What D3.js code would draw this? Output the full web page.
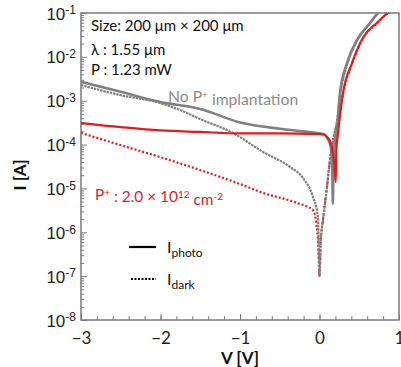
<!DOCTYPE html>
<html><head><meta charset="utf-8">
<script src="https://cdn.jsdelivr.net/npm/d3@7"></script>
<style>
body{margin:0;background:#fff;}
svg{display:block;font-family:Lato,"Open Sans",sans-serif;}
</style></head><body>
<svg id="c" width="401" height="367"></svg>
<script>
// ---- data ----
const xTicks = [-3, -2, -1, 0, 1];
const yExps = [-8, -7, -6, -5, -4, -3, -2, -1];

const vGrayPhoto = [-3, -2.5, -2, -1.5, -1, -0.5, -0.2, 0, 0.05, 0.1, 0.14, 0.16, 0.168, 0.176, 0.19, 0.22, 0.258, 0.346, 0.47, 0.635, 0.736, 0.8];
const iGrayPhoto = [2.7e-3, 1.6e-3, 9.3e-4, 6.5e-4, 3.2e-4, 2.3e-4, 2.0e-4, 1.8e-4, 1.75e-4, 1.4e-4, 9e-5, 3e-5, 4.5e-6, 4e-5, 1e-4, 2.2e-4, 1.5e-3, 7.2e-3, 2.4e-2, 5.9e-2, 1e-1, 1.2e-1];

const vGrayDark = [-3, -2.509, -2.006, -1.755, -1.503, -1.088, -0.711, -0.371, -0.208, -0.082, -0.019, 0, 0.015, 0.044, 0.094, 0.132, 0.17, 0.22, 0.258, 0.346, 0.47, 0.635, 0.736, 0.8];
const iGrayDark = [2.28e-3, 1.35e-3, 8.87e-4, 6.14e-4, 3.83e-4, 1.84e-4, 6.78e-5, 3.08e-5, 1.73e-5, 6.38e-6, 2.23e-6, 1e-7, 6e-7, 1.9e-6, 1.07e-5, 4.5e-5, 1.25e-4, 3.5e-4, 1.3e-3, 6.5e-3, 2.3e-2, 5.8e-2, 1e-1, 1.2e-1];

const vRedPhoto = [-3, -2.5, -2, -1.5, -1, -0.5, 0, 0.05, 0.1, 0.14, 0.17, 0.19, 0.204, 0.212, 0.23, 0.26, 0.296, 0.409, 0.55, 0.72, 0.86, 0.9];
const iRedPhoto = [3.1e-4, 2.5e-4, 2.1e-4, 1.94e-4, 1.8e-4, 1.8e-4, 1.73e-4, 1.7e-4, 1.45e-4, 1.1e-4, 6e-5, 3e-5, 1.4e-5, 8e-5, 1.6e-4, 5e-4, 1.5e-3, 7.2e-3, 2.8e-2, 5.9e-2, 1e-1, 1.1e-1];

const vRedDark = [-3, -2.509, -2.006, -1.503, -1.0, -0.711, -0.283, -0.082, -0.04, -0.015, 0, 0.015, 0.044, 0.094, 0.132, 0.17, 0.22, 0.26, 0.296, 0.409, 0.55, 0.72, 0.86, 0.9];
const iRedDark = [1.84e-4, 9.8e-5, 5.2e-5, 2.63e-5, 1.26e-5, 7.9e-6, 4.66e-6, 3.2e-6, 1.6e-6, 5e-7, 1e-7, 6e-7, 1.9e-6, 1.07e-5, 4.5e-5, 1.25e-4, 3e-4, 7e-4, 1.5e-3, 7e-3, 2.7e-2, 5.8e-2, 1e-1, 1.1e-1];

// ---- chart ----
const svg = d3.select("#c");
const L = 81, R = 399, T = 13, B = 320;
const x = d3.scaleLinear().domain([-3, 1]).range([L, R]);
const y = d3.scaleLog().domain([1e-8, 1e-1]).range([B, T]);

const RED = "#e41a1c", GRAY = "#808080", AX = "#7a7a7a";

svg.append("defs").append("clipPath").attr("id", "clip")
  .append("rect").attr("x", L).attr("y", T).attr("width", R - L).attr("height", B - T);

// minor ticks x
const xMinor = d3.range(-3, 1.001, 0.2).map(v => Math.round(v * 10) / 10);
svg.append("g").attr("transform", `translate(0,${B})`)
  .call(d3.axisBottom(x).tickValues(xMinor).tickSize(-4).tickFormat(""))
  .call(g => { g.select(".domain").remove(); g.selectAll("line").attr("stroke", AX); });
// major x
svg.append("g").attr("transform", `translate(0,${B})`)
  .call(d3.axisBottom(x).tickValues(xTicks).tickSize(-6).tickPadding(12).tickFormat(d3.format("d")))
  .call(g => {
    g.select(".domain").remove();
    g.selectAll("line").attr("stroke", AX);
    g.selectAll("text").attr("font-size", 17).attr("fill", "#222").attr("font-family", "Lato,sans-serif");
  });

// minor ticks y
const yMinor = [];
for (let e = -8; e < -1; e++) for (let k = 2; k <= 9; k++) yMinor.push(k * Math.pow(10, e));
svg.append("g").attr("transform", `translate(${L},0)`)
  .call(d3.axisLeft(y).tickValues(yMinor).tickSize(-3).tickFormat(""))
  .call(g => { g.select(".domain").remove(); g.selectAll("line").attr("stroke", AX); });
// major y
svg.append("g").attr("transform", `translate(${L},0)`)
  .call(d3.axisLeft(y).tickValues(yExps.map(e => Math.pow(10, e))).tickSize(-6).tickPadding(6).tickFormat(""))
  .call(g => {
    g.select(".domain").remove();
    g.selectAll("line").attr("stroke", AX);
    g.selectAll(".tick").each(function (d) {
      const t = d3.select(this).append("text").attr("fill", "#222").attr("x", -5).attr("dy", "0.36em")
        .attr("text-anchor", "end").attr("font-size", 17);
      t.append("tspan").text("10");
      t.append("tspan").attr("dy", "-0.45em").attr("font-size", 12).text(String(Math.round(Math.log10(d))));
    });
  });

// frame
svg.append("rect").attr("x", L).attr("y", T).attr("width", R - L).attr("height", B - T)
  .attr("fill", "none").attr("stroke", AX).attr("stroke-width", 1.5);

// lines
const line = d3.line().x(d => x(d[0])).y(d => y(d[1])).curve(d3.curveMonotoneX);
const plot = svg.append("g").attr("clip-path", "url(#clip)");
function draw(vs, is, color, w, dash) {
  plot.append("path").datum(vs.map((v, i) => [v, is[i]]))
    .attr("d", line).attr("fill", "none").attr("stroke", color).attr("stroke-width", w)
    .attr("stroke-dasharray", dash || null).attr("stroke-linejoin", "round");
}
draw(vRedDark, iRedDark, RED, 2.2, "2,2");
draw(vGrayDark, iGrayDark, GRAY, 2.2, "2.5,0.8");
draw(vGrayPhoto, iGrayPhoto, GRAY, 2.6);
draw(vRedPhoto, iRedPhoto, RED, 2.2);

// annotations
const ann = svg.append("g").attr("font-size", 15).attr("fill", "#111");
ann.append("text").attr("x", 91).attr("y", 31).text("Size: 200 μm × 200 μm");
ann.append("text").attr("x", 91).attr("y", 55).text("λ : 1.55 μm");
ann.append("text").attr("x", 91).attr("y", 75).text("P : 1.23 mW");

const np = svg.append("text").attr("x", 168).attr("y", 102).attr("font-size", 15.7).attr("fill", "#8c8c8c");
np.append("tspan").text("No P");
np.append("tspan").attr("dy", "-0.45em").attr("font-size", 10).text("+");
np.append("tspan").attr("dy", "0.45em").text(" implantation");

const pp = svg.append("text").attr("x", 95).attr("y", 200).attr("font-size", 15.4).attr("fill", "#d9232a");
pp.append("tspan").text("P");
pp.append("tspan").attr("dy", "-0.45em").attr("font-size", 10).text("+");
pp.append("tspan").attr("dy", "0.45em").text(" : 2.0 × 10");
pp.append("tspan").attr("dy", "-0.45em").attr("font-size", 10).text("12");
pp.append("tspan").attr("dy", "0.45em").text(" cm");
pp.append("tspan").attr("dy", "-0.45em").attr("font-size", 10).text("-2");

// legend
const lg = svg.append("g");
lg.append("line").attr("x1", 129).attr("x2", 156).attr("y1", 247).attr("y2", 247).attr("stroke", "#000").attr("stroke-width", 2.2);
lg.append("line").attr("x1", 131).attr("x2", 156).attr("y1", 279).attr("y2", 279).attr("stroke", "#000").attr("stroke-width", 2).attr("stroke-dasharray", "2,1.5");
const t1 = lg.append("text").attr("x", 167).attr("y", 253).attr("font-size", 16).attr("fill", "#111");
t1.append("tspan").text("I");
t1.append("tspan").attr("dy", "0.35em").attr("font-size", 12).text("photo");
const t2 = lg.append("text").attr("x", 167).attr("y", 285).attr("font-size", 16).attr("fill", "#111");
t2.append("tspan").text("I");
t2.append("tspan").attr("dy", "0.35em").attr("font-size", 12).text("dark");

// axis titles
svg.append("text").attr("x", 240).attr("y", 364).attr("text-anchor", "middle")
  .attr("font-size", 17).attr("font-weight", "bold").attr("fill", "#111").text("V [V]");
svg.append("text").attr("transform", "translate(26,175) rotate(-90)").attr("text-anchor", "middle")
  .attr("font-size", 17).attr("font-weight", "bold").attr("fill", "#111").text("I [A]");
</script>
</body></html>
